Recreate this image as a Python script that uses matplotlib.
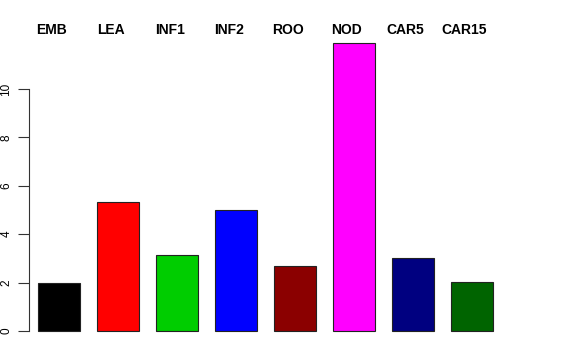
import numpy as np
import matplotlib
matplotlib.use("Agg")
import matplotlib.pyplot as plt

plt.rcParams['font.family'] = ['Liberation Sans', 'DejaVu Sans']

# valores
tejidos = ["EMB", "LEA", "INF1", "INF2", "ROO", "NOD", "CAR5", "CAR15"]
valores = [1.98, 5.33, 3.14, 5.0, 2.69, 11.9, 3.03, 2.03]
colores = ["#000000", "#FF0000", "#00CD00", "#0000FF", "#8B0000", "#FF00FF", "#000080", "#006400"]

fig = plt.figure(figsize=(5.76, 3.6), dpi=100)
# region de dibujo en pixeles (estilo barplot de R)
x0, x1 = 29, 519
ytop, ybot = 31.5, 342.5
ax = fig.add_axes([x0/576, (360-ybot)/360, (x1-x0)/576, (ybot-ytop)/360])

ancho = 0.854
pos = 0.2 + ancho/2 + 1.2*np.arange(len(valores))
ax.bar(pos, valores, width=ancho, color=colores, edgecolor="#222222", linewidth=0.8)

ax.set_xlim(0.017, 9.983)
ax.set_ylim(-0.476, 12.376)

for s in ["top", "right", "bottom"]:
    ax.spines[s].set_visible(False)
ax.spines["left"].set_bounds(0, 10)
ax.spines["left"].set_color("#333333")
ax.set_xticks([])
ax.set_yticks([0, 2, 4, 6, 8, 10])
ax.tick_params(axis='y', length=8, width=0.8, color="#333333", labelsize=8.5, pad=4)
for lab in ax.get_yticklabels():
    lab.set_rotation(90)
    lab.set_va("center")

# nombres arriba
for p, t in zip(pos, tejidos):
    ax.text(p - 0.15, 1.0 + 1.5/311, t, transform=ax.get_xaxis_transform(), ha="center",
            va="center", fontsize=10, fontweight="bold")

fig.savefig("out.png", dpi=100)
